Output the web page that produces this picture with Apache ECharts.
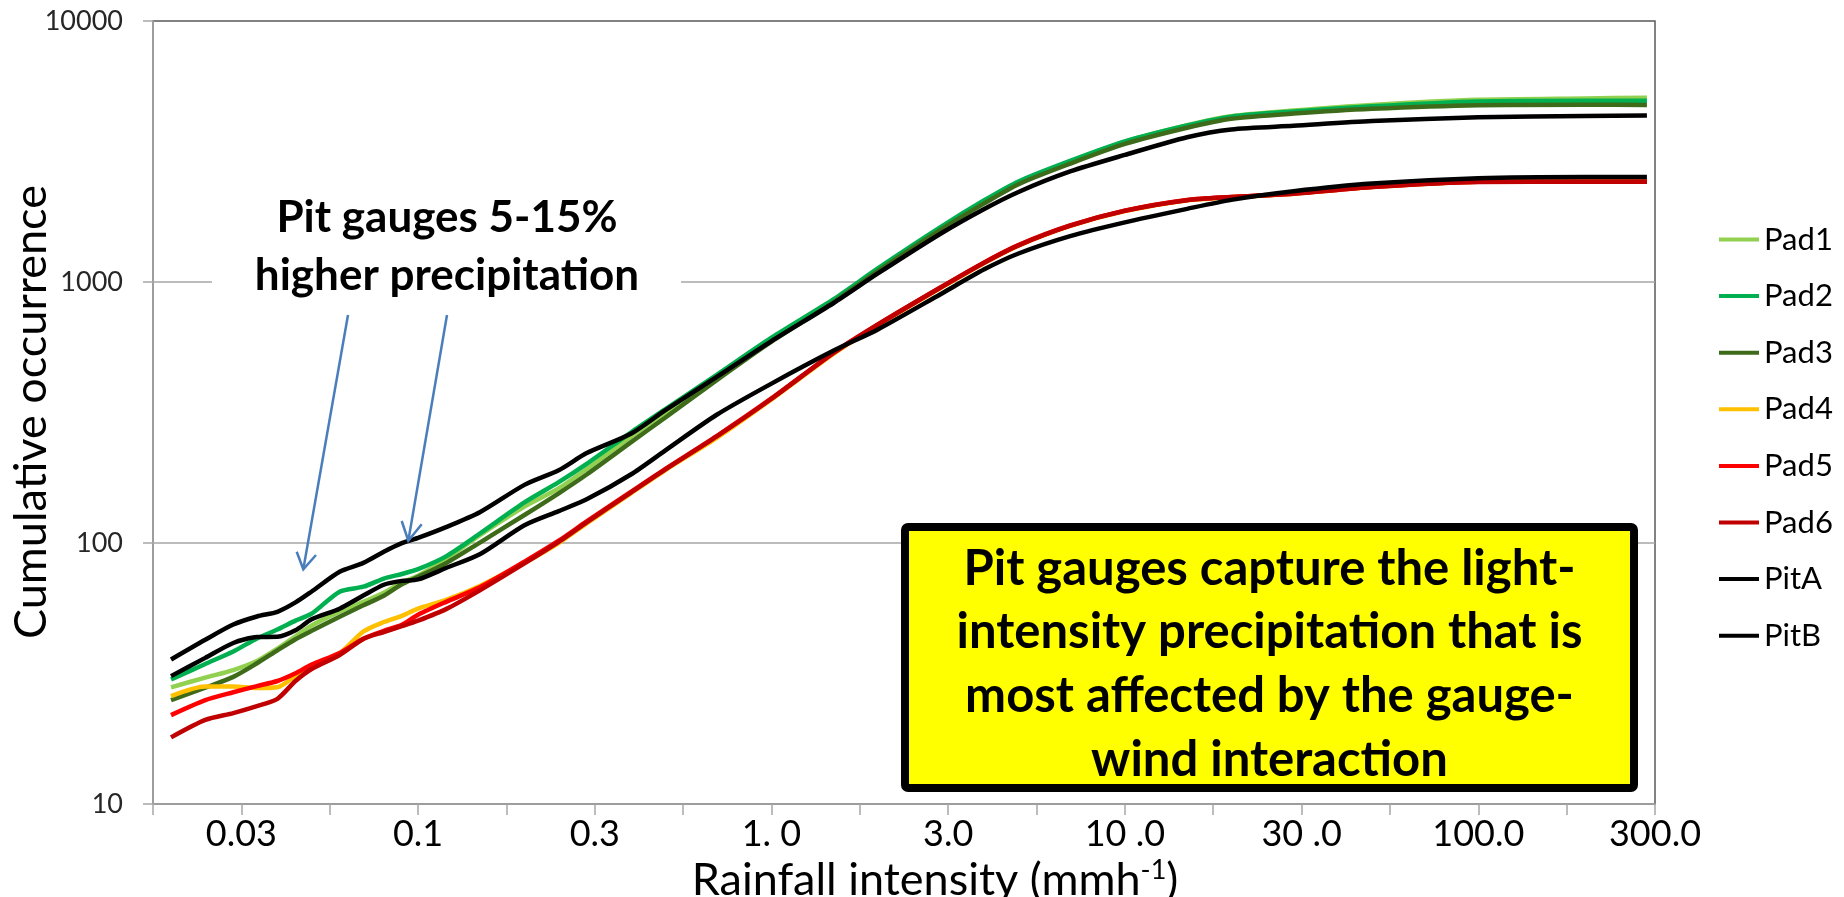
<!DOCTYPE html>
<html>
<head>
<meta charset="utf-8">
<title>Cumulative occurrence of rainfall intensity</title>
<script src="https://cdn.jsdelivr.net/npm/echarts@6.0.0/dist/echarts.min.js"></script>
<style>
    html, body { margin: 0; padding: 0; background: #fff; }
    #chart { width: 1844px; height: 897px; }
</style>
</head>
<body>
<div id="chart"></div>
<script>
// rainfall intensity (mm/h) where the curves were read
var intensity = [0.02, 0.025, 0.03, 0.035, 0.04, 0.045, 0.05, 0.06, 0.07, 0.08, 0.09, 0.1,
    0.12, 0.15, 0.2, 0.25, 0.3, 0.4, 0.5, 0.7, 1, 1.5, 2, 3, 4, 5, 7, 10, 15, 20, 30, 50, 100, 200, 300];

// cumulative occurrence per gauge
var pad1 = [28.0, 30.5, 32.6, 35.3, 39.4, 43.9, 48.3, 54.6, 59.5, 64.5, 70.6, 74.9, 86.8, 107.5,
    138, 162, 192, 255, 315, 432, 598, 845, 1110, 1595, 2030, 2410, 2900, 3450, 3990, 4320, 4540, 4770, 4990, 5050, 5080];
var pad2 = [30.0, 34.4, 38.4, 43.1, 46.6, 50.4, 53.6, 65.1, 68.0, 73.1, 76.1, 79.4, 88.9, 109,
    143, 171, 201, 265, 325, 441, 612, 860, 1127, 1618, 2056, 2428, 2911, 3457, 3981, 4301, 4502, 4709, 4915, 4950, 4950];
var pad3 = [25.0, 27.9, 30.7, 34.6, 38.8, 42.8, 46.1, 52.2, 57.7, 62.8, 69.5, 74.2, 83.7, 100.6,
    128, 155, 183, 243, 302, 421, 591, 838, 1100, 1580, 2000, 2370, 2840, 3380, 3900, 4220, 4420, 4610, 4760, 4780, 4770];
var pad4 = [25.9, 28.2, 28.2, 27.8, 28.0, 30.9, 33.6, 37.8, 45.8, 49.8, 52.6, 56.1, 60.5, 68.6,
    84, 100, 119, 155, 190, 253, 355, 532, 683, 945, 1182, 1378, 1640, 1870, 2055, 2110, 2180, 2310, 2420, 2425, 2425];
var pad5 = [21.9, 25.0, 26.8, 28.3, 29.6, 31.7, 34.2, 37.9, 43.0, 46.1, 48.6, 53.1, 59.5, 67.8,
    84.8, 102, 121, 157, 192, 257, 358, 537, 688, 951, 1189, 1385, 1646, 1877, 2062, 2117, 2183, 2314, 2423, 2423, 2420];
var pad6 = [18.0, 21.0, 22.3, 23.7, 25.3, 29.6, 32.9, 37.2, 42.9, 45.6, 48.0, 50.4, 55.8, 66.0,
    83.5, 101, 120, 156, 191, 256, 357, 535, 686, 950, 1186, 1382, 1643, 1874, 2058, 2115, 2180, 2310, 2415, 2420, 2420];
var pitA = [35.8, 42.6, 48.7, 52.3, 54.5, 59.2, 65.2, 77.6, 83.9, 92.6, 99.9, 104.6, 115, 131.5,
    167, 190, 221, 262, 322, 433, 594, 831, 1078, 1527, 1904, 2213, 2651, 3069, 3587, 3843, 3967, 4135, 4279, 4325, 4345];
var pitB = [30.9, 36.3, 41.4, 43.6, 43.7, 46.3, 51.0, 56.0, 62.9, 69.2, 71.6, 72.5, 80.2, 90.8,
    117, 132.5, 147, 183, 226, 310, 408, 546, 658, 896, 1118, 1286, 1499, 1693, 1907, 2064, 2226, 2382, 2498, 2525, 2525];

var seriesNames = ['Pad1', 'Pad2', 'Pad3', 'Pad4', 'Pad5', 'Pad6', 'PitA', 'PitB'];
var seriesValues = [pad1, pad2, pad3, pad4, pad5, pad6, pitA, pitB];
var seriesColors = ['#92D050', '#00B050', '#3D6B19', '#FFC000', '#FF0000', '#C00000', '#000000', '#000000'];

// labels of the half-decade ticks, from 10^-1.5 to 10^2.5
var xTickLabels = ['0.03', '0.1', '0.3', '1. 0', '3.0', '10 .0', '30 .0', '100.0', '300.0'];
var yTickLabels = ['10', '100', '1000', '10000'];

var FONT = 'Lato';
var GRID = { left: 153, top: 21, right: 189, bottom: 93 };

var buildSeries = function() {
    var list = [];
    for (var k = 0; k < seriesNames.length; k++) {
        var vals = seriesValues[k];
        var data = [];
        for (var i = 0; i < intensity.length; i++) {
            // x axis is drawn on log10 of the intensity
            data.push([Math.log10(intensity[i]), vals[i]]);
        }
        list.push({
            name: seriesNames[k],
            type: 'line',
            data: data,
            symbol: 'none',
            smooth: 0.25,
            color: seriesColors[k],
            lineStyle: { width: 4.5, color: seriesColors[k] }
        });
    }
    return list;
};

var xLabel = function(v) {
    var k = (v + 1.5) * 2;
    var r = Math.round(k);
    if (Math.abs(k - r) > 1e-6 || r < 0) return '';
    return xTickLabels[r] || '';
};

var yLabel = function(v) {
    var k = Math.round(Math.log10(v)) - 1;
    return yTickLabels[k] || '';
};

// annotations drawn over the plot
var buildGraphic = function() {
    var blue = '#4A7EBB';
    var line = function(points) {
        return { type: 'polyline', shape: { points: points }, style: { stroke: blue, lineWidth: 2.5, fill: null }, z: 11 };
    };
    return [
        // y axis title
        {
            type: 'text', x: 31, y: 412, rotation: Math.PI / 2, z: 11,
            style: {
                text: 'Cumulative occurrence', font: '45px ' + FONT, fill: '#000',
                align: 'center', verticalAlign: 'middle'
            }
        },
        { type: 'rect', shape: { x: 212, y: 182, width: 469, height: 128 }, style: { fill: '#fff' }, z: 10 },
        {
            type: 'text', x: 447, y: 247, z: 11,
            style: {
                text: 'Pit gauges 5-15%\nhigher precipitation',
                font: 'bold 44px ' + FONT, fill: '#000',
                align: 'center', verticalAlign: 'middle', lineHeight: 58
            }
        },
        line([[348, 315], [303.3, 569.3]]),
        line([[296.7, 551.7], [303.3, 569.3], [316, 555]]),
        line([[447, 315], [408.3, 540.7]]),
        line([[401.7, 521], [408.3, 540.7], [421.7, 524.3]]),
        {
            type: 'rect', z: 10,
            shape: { x: 905, y: 527, width: 729, height: 261, r: 3 },
            style: { fill: '#FFFF00', stroke: '#000', lineWidth: 8 }
        },
        {
            type: 'text', x: 1269.5, y: 664.5, z: 11,
            style: {
                text: 'Pit gauges capture the light-\nintensity precipitation that is\nmost affected by the gauge-\nwind interaction',
                font: 'bold 49px ' + FONT, fill: '#000',
                align: 'center', verticalAlign: 'middle', lineHeight: 63.7
            }
        }
    ];
};

var chart = echarts.init(document.getElementById('chart'), null, { renderer: 'canvas' });
chart.setOption({
    animation: false,
    backgroundColor: '#fff',
    textStyle: { fontFamily: FONT },
    grid: {
        left: GRID.left, top: GRID.top, right: GRID.right, bottom: GRID.bottom,
        containLabel: false, outerBoundsMode: 'none',
        show: true, borderColor: '#595959', borderWidth: 1.5
    },
    legend: {
        orient: 'vertical', left: 1714, top: 219,
        icon: 'rect', itemWidth: 40, itemHeight: 4, itemGap: 25.6,
        data: seriesNames,
        textStyle: { fontFamily: FONT, fontSize: 31, lineHeight: 30, color: '#000' }
    },
    xAxis: {
        type: 'value', min: -1.75, max: 2.5, interval: 0.25,
        name: '{t|Rainfall intensity (mmh}{s|-1}{t|)}',
        nameLocation: 'middle', nameGap: 48,
        nameTextStyle: {
            padding: [0, 0, 0, 62],
            rich: {
                t: { fontFamily: FONT, fontSize: 45, color: '#000', lineHeight: 48 },
                s: { fontFamily: FONT, fontSize: 27, color: '#000', verticalAlign: 'top', lineHeight: 27 }
            }
        },
        axisLine: { onZero: false, lineStyle: { color: '#a6a6a6', width: 1.5 } },
        axisTick: { show: true, inside: false, length: 11, lineStyle: { color: '#a6a6a6', width: 1.5 } },
        axisLabel: { formatter: xLabel, fontFamily: FONT, fontSize: 36, color: '#000', margin: 12 },
        splitLine: { show: false }
    },
    yAxis: {
        type: 'log', logBase: 10, min: 10, max: 10000,
        axisLine: { show: true, onZero: false, lineStyle: { color: '#a6a6a6', width: 1.5 } },
        axisTick: { show: true, inside: false, length: 10, lineStyle: { color: '#a6a6a6', width: 1.5 } },
        axisLabel: { formatter: yLabel, fontFamily: FONT, fontSize: 27, color: '#262626', margin: 30 },
        splitLine: { show: true, showMinLine: false, showMaxLine: false, lineStyle: { color: '#a6a6a6', width: 1.5 } }
    },
    series: buildSeries(),
    graphic: buildGraphic()
});
</script>
</body>
</html>
